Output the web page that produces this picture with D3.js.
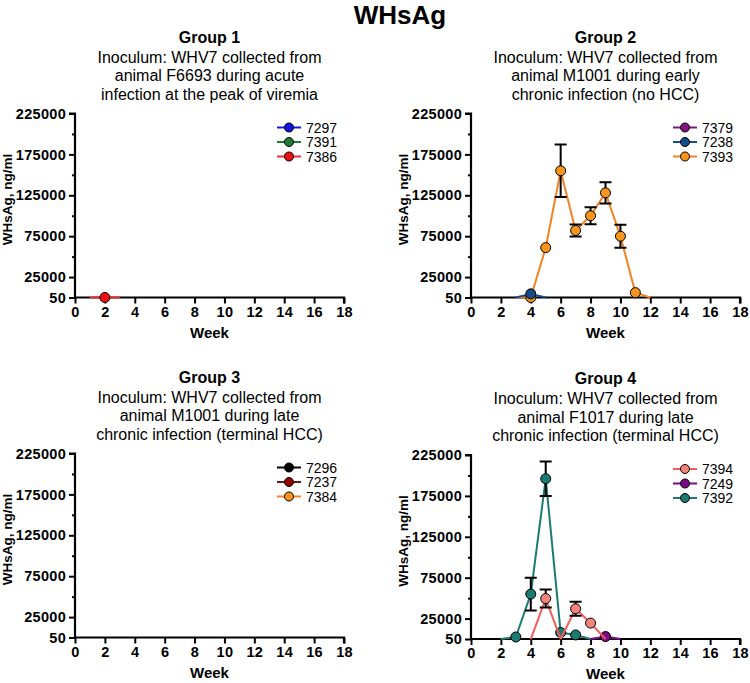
<!DOCTYPE html>
<html><head><meta charset="utf-8">
<script src="https://cdn.jsdelivr.net/npm/d3@7"></script>
<style>body{margin:0;background:#fff}svg{display:block}text{font-family:"Liberation Sans",Arial,sans-serif}</style>
</head><body>
<svg id="chart" width="750" height="683"></svg>
<script>
const weeks = [0,1,2,3,4,5,6,7,8,9,10,11,12,13,14,15,16,17,18];
const yTickValues = [50, 25000, 75000, 125000, 175000, 225000];
const yMinorTicks = [50000, 100000, 150000, 200000];
const xTickValues = [0,2,4,6,8,10,12,14,16,18];

// Group 1
const g1_7297 = [0,0,0,0,0,0,0,0,0,0,0,0,0,0,0,0,0,0,0];
const g1_7391 = [0,0,0,0,0,0,0,0,0,0,0,0,0,0,0,0,0,0,0];
const g1_7386 = [0,0,50,0,0,0,0,0,0,0,0,0,0,0,0,0,0,0,0];
// Group 2
const g2_7379 = [0,0,0,0,0,0,0,0,0,0,0,0,0,0,0,0,0,0,0];
const g2_7238 = [0,0,0,0,4500,0,0,0,0,0,0,0,0,0,0,0,0,0,0];
const g2_7393 = [0,0,0,0,50,61000,155000,82000,100000,128000,75000,6000,0,0,0,0,0,0,0];
const g2_7393_err = [0,0,0,0,0,0,32000,7300,10500,13000,14000,0,0,0,0,0,0,0,0];
// Group 3
const g3_7296 = [0,0,0,0,0,0,0,0,0,0,0,0,0,0,0,0,0,0,0];
const g3_7237 = [0,0,0,0,0,0,0,0,0,0,0,0,0,0,0,0,0,0,0];
const g3_7384 = [0,0,0,0,0,0,0,0,0,0,0,0,0,0,0,0,0,0,0];
// Group 4
const g4_7394 = [0,0,0,0,0,49500,0,37000,19500,0,0,0,0,0,0,0,0,0,0];
const g4_7394_err = [0,0,0,0,0,11000,0,8500,0,0,0,0,0,0,0,0,0,0,0];
const g4_7249 = [0,0,0,0,0,0,0,0,0,3000,0,0,0,0,0,0,0,0,0];
const g4_7392 = [0,0,0,2500,55000,196000,8000,5000,0,0,0,0,0,0,0,0,0,0,0];
const g4_7392_err = [0,0,0,0,20000,21000,0,0,0,0,0,0,0,0,0,0,0,0,0];

const groupTitles = ["Group 1","Group 2","Group 3","Group 4"];
const groupSubtitles = [
  ["Inoculum: WHV7 collected from","animal F6693 during acute","infection at the peak of viremia"],
  ["Inoculum: WHV7 collected from","animal M1001 during early","chronic infection (no HCC)"],
  ["Inoculum: WHV7 collected from","animal M1001 during late","chronic infection (terminal HCC)"],
  ["Inoculum: WHV7 collected from","animal F1017 during late","chronic infection (terminal HCC)"]
];

const panels = [
  {x0:75, y0:113.5, series:[
    {name:"7297", v:g1_7297, fill:"#1414e6", line:"#1414e6"},
    {name:"7391", v:g1_7391, fill:"#1e7d36", line:"#1e7d36"},
    {name:"7386", v:g1_7386, fill:"#ee1111", line:"#f03030"}]},
  {x0:471, y0:113.5, series:[
    {name:"7379", v:g2_7379, fill:"#7d167d", line:"#7d167d"},
    {name:"7238", v:g2_7238, fill:"#164c88", line:"#164c88"},
    {name:"7393", v:g2_7393, err:g2_7393_err, fill:"#f7941d", line:"#f58220"}]},
  {x0:75, y0:453.5, series:[
    {name:"7296", v:g3_7296, fill:"#000000", line:"#000000"},
    {name:"7237", v:g3_7237, fill:"#990000", line:"#6b1515"},
    {name:"7384", v:g3_7384, fill:"#f7941d", line:"#ff7f27"}]},
  {x0:471, y0:455, series:[
    {name:"7394", v:g4_7394, err:g4_7394_err, fill:"#f4837c", line:"#f25c5c"},
    {name:"7249", v:g4_7249, fill:"#7a0a85", line:"#7a0a85"},
    {name:"7392", v:g4_7392, err:g4_7392_err, fill:"#1b7a71", line:"#1b7a71"}]}
];

const svg = d3.select("#chart");
svg.append("text").attr("x",400).attr("y",24).attr("text-anchor","middle")
  .attr("font-size",26).attr("font-weight","bold").text("WHsAg");

const W = 269, H = 184;
panels.forEach((p,i) => {
  const g = svg.append("g");
  const x = d3.scaleLinear().domain([0,18]).range([p.x0, p.x0+W]);
  const y = d3.scaleLinear().domain([50,225000]).range([p.y0+H, p.y0]);
  const cx = p.x0 + W/2;
  const baseY = p.y0 + H;

  // titles
  g.append("text").attr("x",cx).attr("y",p.y0-71).attr("text-anchor","middle")
    .attr("font-size",16).attr("font-weight","bold").text(groupTitles[i]);
  groupSubtitles[i].forEach((s,k) => {
    g.append("text").attr("x",cx).attr("y",p.y0-51+k*18.6).attr("text-anchor","middle")
      .attr("font-size",16).text(s);
  });

  // clip
  const cid = "clip"+i;
  svg.append("clipPath").attr("id",cid).append("rect")
    .attr("x",p.x0).attr("y",p.y0-20).attr("width",W+2).attr("height",H+21.2);

  // axes
  const yAxis = d3.axisLeft(y).tickValues(yTickValues).tickSize(6).tickPadding(3)
    .tickFormat(d3.format("d"));
  const ya = g.append("g").attr("transform",`translate(${p.x0},0)`).call(yAxis);
  const yMinor = g.append("g").attr("transform",`translate(${p.x0},0)`)
    .call(d3.axisLeft(y).tickValues(yMinorTicks).tickSize(3).tickFormat(""));
  yMinor.select(".domain").remove();
  const xAxis = d3.axisBottom(x).tickValues(xTickValues).tickSize(6).tickPadding(3);
  const xa = g.append("g").attr("transform",`translate(0,${baseY})`).call(xAxis);
  [ya,xa,yMinor].forEach(a => {
    a.selectAll("path,line").attr("stroke","#000").attr("stroke-width",2);
    a.select(".domain").attr("stroke-width",2.2);
    a.selectAll("text").attr("font-size",14.5).attr("font-weight","bold")
      .attr("font-family","'Liberation Sans',Arial,sans-serif").attr("fill","#000")
      .attr("letter-spacing","0.3px");
  });
  ya.select(".domain").attr("d",`M-6,${p.y0}H0V${baseY}`).attr("fill","none");
  xa.select(".domain").attr("d",`M${p.x0},0H${p.x0+W}V6`).attr("fill","none");

  g.append("text").attr("x",cx).attr("y",baseY+40).attr("text-anchor","middle")
    .attr("font-size",15).attr("font-weight","bold").text("Week");
  g.append("text").attr("transform",`translate(${p.x0-63},${p.y0+86}) rotate(-90)`)
    .attr("text-anchor","middle").attr("font-size",13.5).attr("font-weight","bold").text("WHsAg, ng/ml");

  // data, first series on top -> draw in reverse
  const plot = g.append("g");
  const lineGen = d3.line().x(d=>x(d[0])).y(d=>y(d[1]));
  p.series.slice().reverse().forEach(s => {
    const pts = weeks.map((w,k)=>[w, s.v[k], s.err ? s.err[k] : 0]);
    const sg = plot.append("g");
    const lg = sg.append("g").attr("clip-path",`url(#${cid})`);
    for (let k=0;k<pts.length-1;k++){
      if (pts[k][1] >= 50 || pts[k+1][1] >= 50) {
        lg.append("path").attr("d",lineGen([pts[k],pts[k+1]]))
          .attr("fill","none").attr("stroke",s.line).attr("stroke-width",2);
      }
    }
    pts.filter(d=>d[2]>0).forEach(d => {
      const xx = x(d[0]), y1 = y(d[1]+d[2]), y2 = y(d[1]-d[2]);
      sg.append("path").attr("d",`M${xx},${y1}V${y2}M${xx-6},${y1}H${xx+6}M${xx-6},${y2}H${xx+6}`)
        .attr("stroke","#000").attr("stroke-width",2).attr("fill","none");
    });
    sg.selectAll("circle.pt").data(pts.filter(d=>d[1]>=50)).join("circle")
      .attr("class","pt").attr("cx",d=>x(d[0])).attr("cy",d=>y(d[1])).attr("r",5)
      .attr("fill",s.fill).attr("stroke","#000").attr("stroke-width",1);
  });

  // legend
  p.series.forEach((s,k) => {
    const ly = p.y0 + 14 + k*14.5;
    const lx = p.x0 + 214;
    g.append("line").attr("x1",lx-12).attr("x2",lx+12).attr("y1",ly).attr("y2",ly)
      .attr("stroke",s.line).attr("stroke-width",2);
    g.append("circle").attr("cx",lx).attr("cy",ly).attr("r",4.5)
      .attr("fill",s.fill).attr("stroke","#000").attr("stroke-width",1);
    g.append("text").attr("x",lx+17).attr("y",ly+5).attr("font-size",14).text(s.name);
  });
});
</script>
</body></html>
